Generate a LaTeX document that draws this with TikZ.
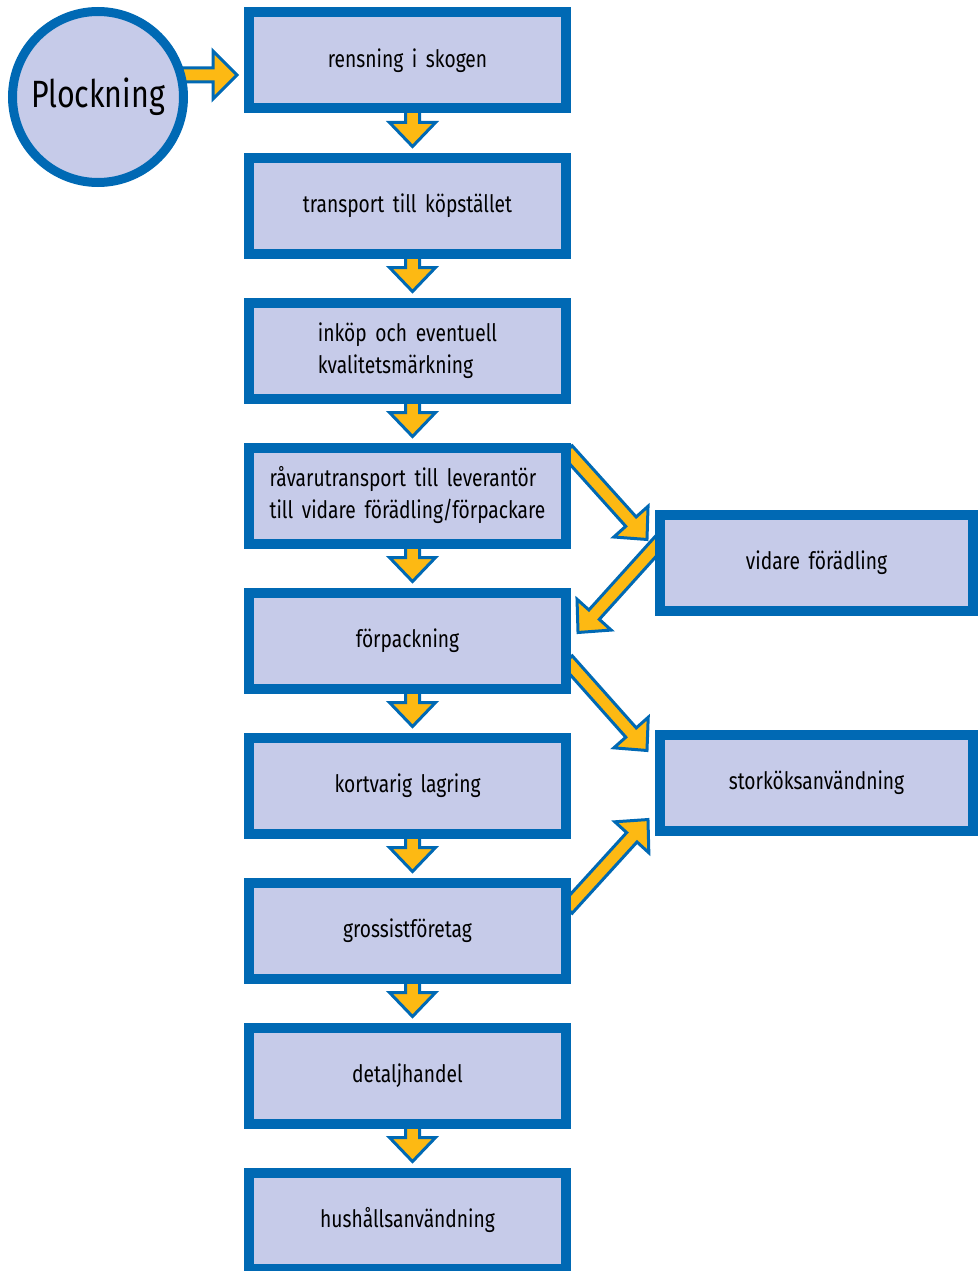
\documentclass[tikz,border=0pt]{standalone}
\usepackage{fontspec}
\setmainfont{Fira Sans}[FakeStretch=0.8,WordSpace=1.7]
\usetikzlibrary{calc,backgrounds}
\definecolor{fblue}{RGB}{0,105,180}
\definecolor{flila}{RGB}{198,203,233}
\definecolor{fgul}{RGB}{253,185,19}
\tikzstyle{sbox}=[rectangle,draw=fblue,fill=flila,line width=10pt,minimum width=317pt,minimum height=96pt,inner sep=0pt,font=\fontsize{24}{32}\selectfont]
\tikzstyle{rbox}=[sbox,minimum width=313pt]
\tikzstyle{start}=[circle,draw=fblue,fill=flila,line width=9pt,minimum size=171pt,inner sep=0pt,font=\fontsize{38}{38}\selectfont]
\tikzstyle{fatarr}=[fill=fgul,draw=fblue,line width=3pt,line join=miter]
% tjock pil: [halv huvudbredd]{fran}{till}
\newcommand{\fatarrow}[3][23]{\path[fatarr] let \p1=(#2), \p2=(#3), \n1={atan2(\y2-\y1,\x2-\x1)}, \n2={veclen(\x2-\x1,\y2-\y1)} in [shift={(\p1)},rotate=\n1] (0,7) -- ({\n2-24},7) -- ({\n2-24},#1) -- (\n2,0) -- ({\n2-24},-#1) -- ({\n2-24},-7) -- (0,-7) -- cycle;}

\begin{document}
\begin{tikzpicture}[x=1pt,y=-1pt]
\useasboundingbox (0,0) rectangle (978,1271);
\node[start] (pl) at (98,97) {Plockning};
\node[sbox] (r1) at (407.5,60.5) {rensning i skogen};
\node[sbox] (r2) at (407.5,205.5) {transport till köpstället};
\node[sbox,align=left] (r3) at (407.5,350.5) {inköp och eventuell\\kvalitetsmärkning};
\node[sbox,align=left] (r4) at (407.5,495.5) {råvarutransport till leverantör\\till vidare förädling/förpackare};
\node[sbox] (r5) at (407.5,640.5) {förpackning};
\node[sbox] (r6) at (407.5,785.5) {kortvarig lagring};
\node[sbox] (r7) at (407.5,930.5) {grossistföretag};
\node[sbox] (r8) at (407.5,1075.5) {detaljhandel};
\node[sbox] (r9) at (407.5,1220.5) {hushållsanvändning};
\node[rbox] (vid) at (816.5,562.5) {vidare förädling};
\node[rbox] (stor) at (816.5,782.5) {storköksanvändning};
\begin{pgfonlayer}{background}
\fatarrow[24]{[xshift=52pt,yshift=22pt]pl.center}{[xshift=-7pt,yshift=-14.5pt]r1.west}
\foreach \a/\b in {r1/r2,r2/r3,r3/r4,r4/r5,r5/r6,r6/r7,r7/r8,r8/r9}
  \fatarrow{[xshift=5pt,yshift=3pt]\a.south}{[xshift=5pt,yshift=6pt]\b.north};
\fatarrow{[xshift=-4pt,yshift=-8pt]r4.north east}{[xshift=-8pt,yshift=-30pt]vid.north west}
\fatarrow{[xshift=6pt,yshift=22pt]vid.west}{[xshift=7pt,yshift=-45pt]r5.north east}
\fatarrow{[xshift=-4pt,yshift=-20pt]r5.east}{[xshift=-8pt,yshift=-21pt]stor.north west}
\fatarrow{[xshift=-4pt,yshift=22pt]r7.east}{[xshift=-7pt,yshift=16pt]stor.south west}
\end{pgfonlayer}
\end{tikzpicture}
\end{document}
